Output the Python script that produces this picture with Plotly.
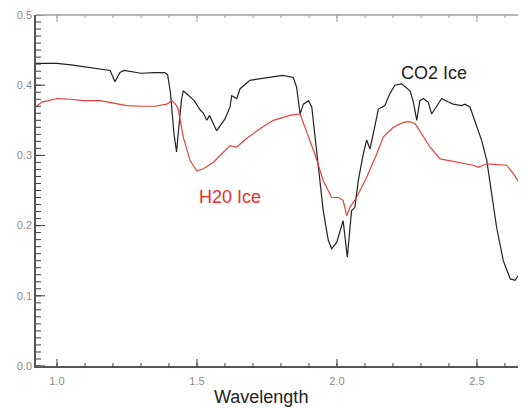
import plotly.graph_objects as go

# CO2 ice spectrum (black)
co2_wl = [0.925, 1.00, 1.05, 1.10, 1.15, 1.19, 1.207, 1.225, 1.24, 1.30, 1.35, 1.385,
          1.395, 1.405, 1.418, 1.427, 1.435, 1.445, 1.451, 1.47, 1.49, 1.511, 1.523,
          1.535, 1.545, 1.57, 1.60, 1.618, 1.624, 1.642, 1.654, 1.689, 1.749, 1.807,
          1.844, 1.856, 1.868, 1.88, 1.898, 1.91, 1.927, 1.951, 1.969, 1.981, 1.999,
          2.022, 2.037, 2.046, 2.052, 2.064, 2.076, 2.094, 2.106, 2.118, 2.136, 2.148,
          2.171, 2.189, 2.207, 2.231, 2.261, 2.273, 2.285, 2.296, 2.308, 2.326, 2.338,
          2.356, 2.374, 2.398, 2.415, 2.445, 2.457, 2.475, 2.487, 2.505, 2.517, 2.535,
          2.553, 2.57, 2.594, 2.619, 2.636, 2.66, 2.668]
co2_val = [0.431, 0.431, 0.429, 0.426, 0.424, 0.421, 0.405, 0.418, 0.421, 0.417, 0.418, 0.418,
           0.415, 0.39, 0.33, 0.305, 0.34, 0.38, 0.392, 0.385, 0.378, 0.365, 0.36,
           0.35, 0.357, 0.335, 0.352, 0.369, 0.385, 0.381, 0.395, 0.407, 0.411, 0.414,
           0.411, 0.397, 0.359, 0.373, 0.378, 0.369, 0.307, 0.221, 0.179, 0.167, 0.176,
           0.207, 0.155, 0.193, 0.221, 0.226, 0.264, 0.302, 0.322, 0.309, 0.345, 0.366,
           0.371, 0.388, 0.400, 0.402, 0.392, 0.376, 0.350, 0.378, 0.381, 0.376, 0.359,
           0.371, 0.381, 0.376, 0.373, 0.371, 0.373, 0.369, 0.355, 0.335, 0.321, 0.293,
           0.245, 0.198, 0.150, 0.124, 0.122, 0.136, 0.148]

# H2O ice spectrum (red)
h2o_wl = [0.925, 0.945, 0.97, 1.00, 1.05, 1.094, 1.154, 1.213, 1.249, 1.30, 1.35, 1.392,
          1.41, 1.425, 1.433, 1.451, 1.475, 1.499, 1.523, 1.558, 1.594, 1.618, 1.642,
          1.677, 1.725, 1.773, 1.832, 1.868, 1.895, 1.921, 1.951, 1.981, 2.005, 2.022,
          2.035, 2.046, 2.07, 2.106, 2.142, 2.165, 2.201, 2.237, 2.26, 2.279, 2.302,
          2.332, 2.368, 2.427, 2.487, 2.505, 2.535, 2.606, 2.63, 2.66, 2.666, 2.667]
h2o_val = [0.369, 0.376, 0.378, 0.381, 0.380, 0.378, 0.378, 0.374, 0.371, 0.370, 0.370, 0.373,
           0.378, 0.372, 0.366, 0.326, 0.293, 0.278, 0.281, 0.290, 0.305, 0.314, 0.312,
           0.324, 0.338, 0.350, 0.357, 0.359, 0.330, 0.302, 0.264, 0.240, 0.240, 0.236,
           0.214, 0.226, 0.240, 0.269, 0.302, 0.326, 0.340, 0.347, 0.348, 0.345, 0.331,
           0.312, 0.295, 0.290, 0.286, 0.283, 0.288, 0.286, 0.274, 0.255, 0.250, 0.050]

x_range = [0.925, 2.668]
y_range = [0.0, 0.5]
x_major_ticks = [1.0, 1.5, 2.0, 2.5]
x_minor_ticks = [round(0.9 + 0.1 * i, 2) for i in range(1, 18)]
y_major_ticks = [0.0, 0.1, 0.2, 0.3, 0.4, 0.5]
y_minor_ticks = [round(0.01 * i, 2) for i in range(0, 51)]

FONT = "Liberation Sans, Arial"

fig = go.Figure()
fig.add_trace(go.Scatter(x=co2_wl, y=co2_val, mode="lines", name="CO2 Ice",
                         line=dict(color="#222222", width=1.2)))
fig.add_trace(go.Scatter(x=h2o_wl, y=h2o_val, mode="lines", name="H20 Ice",
                         line=dict(color="#e8403c", width=1.2)))

fig.add_annotation(x=2.348, y=0.417, text="CO2 Ice", showarrow=False,
                   font=dict(family=FONT, size=18, color="#222222"))
fig.add_annotation(x=1.617, y=0.241, text="H20 Ice", showarrow=False,
                   font=dict(family=FONT, size=18, color="#e8302c"))
# x-axis title
fig.add_annotation(x=0.462, y=-0.088, xref="paper", yref="paper", text="Wavelength",
                   showarrow=False, yanchor="middle",
                   font=dict(family=FONT, size=18, color="#222222"))

dark = "#3a3a3a"
light = "#a0a0a0"


def xtick(v, length, side, color):
    # side 0 = bottom (pointing up), 1 = top (pointing down)
    y1 = length if side == 0 else -length
    fig.add_shape(type="line", xref="x", yref="paper", ysizemode="pixel", yanchor=side,
                  x0=v, x1=v, y0=0, y1=y1, line=dict(color=color, width=1), layer="above")


def ytick(v, length, side, color):
    # side 0 = left (pointing right), 1 = right (pointing left)
    x1 = length if side == 0 else -length
    fig.add_shape(type="line", xref="paper", yref="y", xsizemode="pixel", xanchor=side,
                  x0=0, x1=x1, y0=v, y1=v, line=dict(color=color, width=1), layer="above")


for v in x_minor_ticks:
    if x_range[0] <= v <= x_range[1]:
        xtick(v, 3, 0, dark)
        xtick(v, 3, 1, light)
for v in x_major_ticks:
    xtick(v, 7, 0, dark)
    xtick(v, 7, 1, light)
for v in y_minor_ticks:
    ytick(v, 5, 0, dark)
for v in y_major_ticks:
    ytick(v, 9, 0, dark)
    ytick(v, 6, 1, light)

# top and right frame lines
fig.add_shape(type="line", xref="paper", yref="paper", x0=0, x1=1, y0=1, y1=1,
              line=dict(color=light, width=1.5), layer="above")
fig.add_shape(type="line", xref="paper", yref="paper", x0=1, x1=1, y0=0, y1=1,
              line=dict(color="#c8c8c8", width=1, dash="dot"), layer="above")

# page body has an 8px default margin, so the figure is sized to fit the window
fig.update_layout(
    width=518, height=400,
    margin=dict(l=28, r=2, t=7, b=42),
    paper_bgcolor="white", plot_bgcolor="white",
    showlegend=False,
    font=dict(family=FONT, color="#8a8a8a", size=11),
    xaxis=dict(
        range=x_range, automargin=False,
        tickmode="array", tickvals=x_major_ticks, tickformat=".1f", ticks="",
        ticklabelstandoff=4,
        showline=True, linecolor="#555555", linewidth=1.5, mirror=False,
        showgrid=False, zeroline=False,
    ),
    yaxis=dict(
        range=y_range, automargin=False,
        tickmode="array", tickvals=y_major_ticks, tickformat=".1f", ticks="",
        showline=True, linecolor="#555555", linewidth=1.5, mirror=False,
        showgrid=False, zeroline=False,
    ),
)

# hide page scrollbars so the right edge of the plot is not covered
fig.write_html(
    "out.html",
    post_script="document.documentElement.style.overflow='hidden';"
                "document.body.style.overflow='hidden';",
)
